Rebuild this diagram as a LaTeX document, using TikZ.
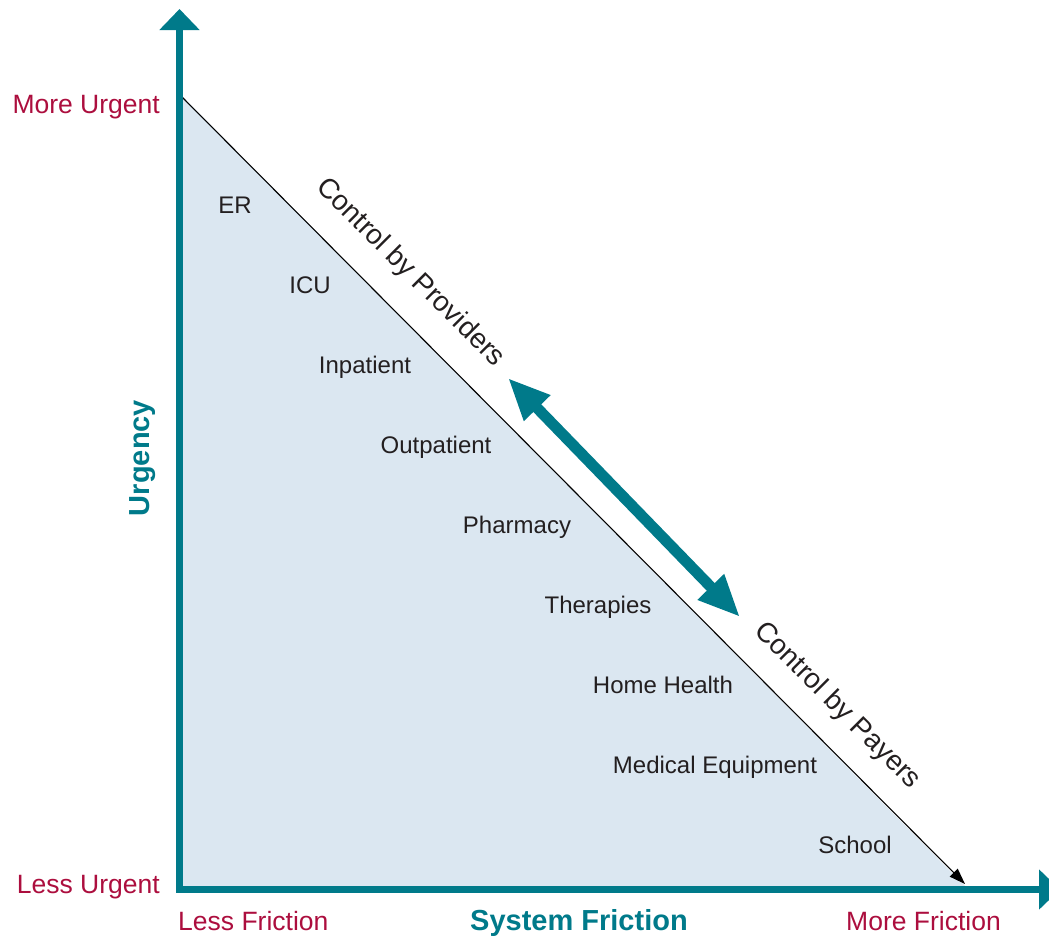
\documentclass[tikz,border=0pt]{standalone}
\usepackage{fontspec}
\setmainfont{Liberation Sans}
\usetikzlibrary{arrows.meta}
\definecolor{axisteal}{RGB}{0,122,138}
\definecolor{urgred}{RGB}{172,14,62}
\definecolor{fillblue}{RGB}{219,231,241}
\definecolor{txtgray}{RGB}{35,31,32}

\begin{document}
\begin{tikzpicture}[x=1pt,y=-1pt,lbl/.style={font=\fontsize{24}{28}\selectfont, text=txtgray, inner sep=0pt, anchor=base}]
\tikzstyle{endlbl}=[font=\fontsize{26.5}{30}\selectfont, text=urgred, inner sep=0pt]
\tikzstyle{ctl}=[font=\fontsize{28}{32}\selectfont, text=txtgray, rotate=-45, inner sep=0pt]
\tikzstyle{axtitle}=[font=\bfseries\fontsize{29}{32}\selectfont, text=axisteal, inner sep=0pt]
\useasboundingbox (0,0) rectangle (1049,935);
% corners of the shaded region and axis ends
\coordinate (O) at (179.5,889.5);
\coordinate (top) at (179.5,9);
\coordinate (right) at (1060,889.5);
\coordinate (tri1) at (181,96);
\coordinate (tri2) at (965,884);
\fill[fillblue] (183,97) -- (183,886) -- (965,886) -- cycle;
\draw[line width=1.1pt, -{Triangle[width=11pt,length=16pt]}] (tri1) -- (tri2);
\draw[axisteal, line width=7pt, miter limit=10, {Triangle[width=39pt,length=21pt]}-{Triangle[width=39pt,length=21pt]}] (top) -- (O) -- (right);
% control arrow
\coordinate (pv) at (508,378);
\coordinate (py) at (740,617);
\draw[axisteal, line width=11pt, {Triangle[width=34pt,length=42pt]}-{Triangle[width=34pt,length=42pt]}] (pv) -- (py);
\node[ctl] (prov) at (410,273) {Control by Providers};
\node[ctl] (pay) at (837,706) {Control by Payers};
% care settings
\foreach \i/\t/\x/\y in {1/ER/235/213, 2/ICU/310/293, 3/Inpatient/365/373, 4/Outpatient/436/453, 5/Pharmacy/517/533, 6/Therapies/598/613, 7/Home Health/663/693, 8/Medical Equipment/715/773, 9/School/855/853}{\node[lbl] (s\i) at (\x,\y) {\t};}
% axis labels
\node[endlbl, anchor=base east] (mu) at (160,113) {More Urgent};
\node[endlbl, anchor=base east] (lu) at (160,893) {Less Urgent};
\node[endlbl, anchor=base west] (lf) at (178,930) {Less Friction};
\node[endlbl, anchor=base east] (mf) at (1001,930) {More Friction};
\node[axtitle, anchor=base] (sf) at (579,930) {System Friction};
\node[axtitle, rotate=90] (urg) at (143,458) {Urgency};
\end{tikzpicture}
\end{document}
